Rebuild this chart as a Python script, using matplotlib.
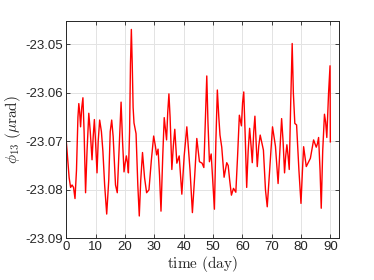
import matplotlib
matplotlib.use("Agg")
import matplotlib.pyplot as plt

plt.rcParams['font.family'] = ['Liberation Sans', 'DejaVu Sans']
plt.rcParams['mathtext.fontset'] = 'cm'

# values
day = [0, 0.5, 1.0, 1.5, 2.0, 2.5, 3.0, 3.5, 4.0, 4.3, 4.6, 4.9, 5.3, 5.7, 6.1,
       6.6, 7.1, 7.7, 8.2, 8.8, 9.2, 9.6, 10.0, 10.5, 10.9, 11.4, 12.0, 12.5,
       13.1, 13.8, 14.5, 15.0, 15.5, 16.0, 16.8, 17.4, 18.0, 18.7, 19.2, 19.7,
       20.1, 20.5, 20.9, 21.2, 21.6, 21.9, 22.2, 22.5, 22.8, 23.1, 23.8, 24.4,
       24.9, 25.4, 26.0, 26.7, 27.4, 28.2, 29.0, 29.8, 30.4, 30.8, 31.3, 31.8,
       32.3, 32.9, 33.4, 34.2, 34.6, 35.0, 35.4, 36.0, 36.5, 37.0, 37.7, 38.5,
       39.4, 40.2, 41.1, 42.2, 43.0, 43.8, 44.5, 45.4, 46.3, 46.9, 47.5, 47.9,
       48.3, 48.8, 49.4, 50.0, 50.5, 51.0, 51.5, 52.0, 52.4, 53.0, 53.8, 54.7,
       55.2, 55.7, 56.3, 57.0, 57.8, 58.4, 59.0, 59.7, 60.1, 60.5, 61.0, 61.5,
       62.0, 62.5, 63.0, 63.4, 63.9, 64.3, 64.7, 65.1, 65.6, 66.1, 67.2, 67.9,
       68.5, 69.2, 70.3, 71.3, 72.2, 72.8, 73.4, 73.9, 74.4, 74.8, 75.2, 75.6,
       76.0, 76.5, 77.0, 77.4, 77.9, 78.5, 79.3, 80.0, 80.5, 80.9, 81.8, 83.2,
       84.3, 85.2, 85.6, 86.0, 86.5, 86.9, 87.4, 88.0, 88.4, 88.8, 89.4, 89.9,
       90.0]
phi13 = [-23.0697, -23.0735, -23.0775, -23.0795, -23.0790, -23.0795, -23.0818,
         -23.0760, -23.0650, -23.0622, -23.0640, -23.0670, -23.0630, -23.0610,
         -23.0680, -23.0806, -23.0720, -23.0642, -23.0680, -23.0738, -23.0690,
         -23.0655, -23.0700, -23.0765, -23.0700, -23.0656, -23.0680, -23.0720,
         -23.0790, -23.0850, -23.0780, -23.0680, -23.0656, -23.0690, -23.0790,
         -23.0806, -23.0720, -23.0619, -23.0700, -23.0763, -23.0745, -23.0730,
         -23.0745, -23.0765, -23.0680, -23.0540, -23.0469, -23.0540, -23.0630,
         -23.0662, -23.0684, -23.0790, -23.0854, -23.0780, -23.0723, -23.0775,
         -23.0806, -23.0800, -23.0740, -23.0689, -23.0710, -23.0728, -23.0716,
         -23.0770, -23.0844, -23.0730, -23.0651, -23.0697, -23.0640, -23.0602,
         -23.0650, -23.0758, -23.0710, -23.0675, -23.0745, -23.0730, -23.0809,
         -23.0730, -23.0670, -23.0760, -23.0847, -23.0770, -23.0694, -23.0742,
         -23.0745, -23.0754, -23.0640, -23.0565, -23.0660, -23.0742, -23.0726,
         -23.0790, -23.0840, -23.0700, -23.0594, -23.0650, -23.0687, -23.0712,
         -23.0774, -23.0744, -23.0750, -23.0780, -23.0811, -23.0797, -23.0805,
         -23.0730, -23.0646, -23.0668, -23.0620, -23.0598, -23.0690, -23.0795,
         -23.0720, -23.0673, -23.0710, -23.0744, -23.0680, -23.0648, -23.0700,
         -23.0752, -23.0710, -23.0687, -23.0718, -23.0800, -23.0835, -23.0770,
         -23.0670, -23.0710, -23.0787, -23.0720, -23.0653, -23.0700, -23.0765,
         -23.0730, -23.0707, -23.0730, -23.0758, -23.0620, -23.0498, -23.0600,
         -23.0663, -23.0666, -23.0760, -23.0828, -23.0760, -23.0711, -23.0752,
         -23.0735, -23.0697, -23.0712, -23.0705, -23.0692, -23.0760, -23.0838,
         -23.0720, -23.0644, -23.0660, -23.0692, -23.0600, -23.0544, -23.0701]

xticks = list(range(0, 100, 10))
yticks = [-23.09, -23.08, -23.07, -23.06, -23.05]
ytick_labels = ['-23.09', '-23.08', '-23.07', '-23.06', '-23.05']

fig = plt.figure(figsize=(3.74, 2.80), dpi=100)
ax = fig.add_axes([0.177, 0.149, 0.729, 0.777])

ax.plot(day, phi13, color='#ff0000', lw=1.0)

ax.set_xlim(0, 92.9)
ax.set_ylim(-23.09, -23.0451)
ax.set_xticks(xticks)
ax.set_yticks(yticks)
ax.set_yticklabels(ytick_labels)
ax.grid(True, color='#e3e3e3', lw=0.7)
ax.set_axisbelow(True)
ax.tick_params(direction='in', length=3, width=0.6, labelsize=9.5,
               colors='#262626', top=True, right=True, pad=2)
for s in ax.spines.values():
    s.set_color('#262626')
    s.set_linewidth(0.7)

ax.set_xlabel(r'$\mathrm{time\ (day)}$', fontsize=11, color='#262626', labelpad=1)
ax.set_ylabel(r'$\phi_{13}\ (\mu\mathrm{rad})$', fontsize=11, color='#262626', labelpad=2)

fig.savefig('out.png', dpi=100)
